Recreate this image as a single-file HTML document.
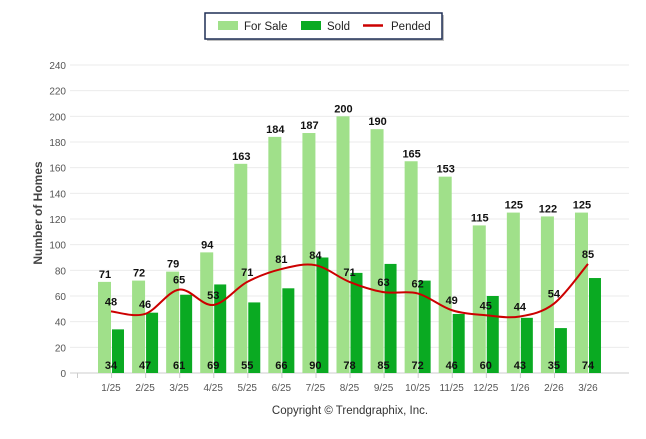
<!DOCTYPE html>
<html><head><meta charset="utf-8"><style>
body{margin:0;background:#fff;font-family:"Liberation Sans",sans-serif}
svg text{font-family:"Liberation Sans",sans-serif}
</style></head><body>
<svg width="646" height="434" viewBox="0 0 646 434" id="c">
<g>
<rect x="207" y="15" width="237" height="26" fill="#000" opacity="0.25"/>
<rect x="205" y="13" width="237" height="26" fill="#fff" stroke="#1f2f55" stroke-width="1.5"/>
<rect x="218" y="21" width="20" height="9" fill="#a0e08a"/>
<text x="244" y="30" font-size="11.5" fill="#222">For Sale</text>
<rect x="301" y="21" width="20" height="9" fill="#0aaa22"/>
<text x="327" y="30" font-size="11.5" fill="#222">Sold</text>
<line x1="363" y1="25.5" x2="383" y2="25.5" stroke="#cc0000" stroke-width="2.5"/>
<text x="391" y="30" font-size="11.5" fill="#222">Pended</text>
</g>
<text transform="translate(42,213) rotate(-90)" text-anchor="middle" font-size="12" font-weight="bold" fill="#444">Number of Homes</text>
<text x="350" y="414" text-anchor="middle" font-size="11.5" fill="#333">Copyright © Trendgraphix, Inc.</text>
<g id="g"></g>
</svg>
<script>
const categories=["1/25","2/25","3/25","4/25","5/25","6/25","7/25","8/25","9/25","10/25","11/25","12/25","1/26","2/26","3/26"];
const forSale=[71,72,79,94,163,184,187,200,190,165,153,115,125,122,125];
const sold=[34,47,61,69,55,66,90,78,85,72,46,60,43,35,74];
const pended=[48,46,65,53,71,81,84,71,63,62,49,45,44,54,85];
const yTicks=[0,20,40,60,80,100,120,140,160,180,200,220,240];
const NS="http://www.w3.org/2000/svg",g=document.getElementById('g');
const y=v=>373-v*(308/240);
const xc=i=>111+i*34.07;
function mk(t,a,txt){const e=document.createElementNS(NS,t);for(const k in a)e.setAttribute(k,a[k]);if(txt!==undefined)e.textContent=txt;g.appendChild(e);return e;}
yTicks.forEach(v=>{
 const l=mk('line',{x1:70,x2:629,y1:y(v),y2:y(v),stroke:v?'#ebebeb':'#ccc','stroke-width':1});
 
 
 const t=mk('text',{x:66,y:y(v)+4,'text-anchor':'end','font-size':10,fill:'#555'},v);
 
 
});
categories.forEach((c,i)=>{
 const tk=mk('line',{x1:xc(i)-33.5,x2:xc(i)-33.5,y1:373,y2:378,stroke:'#ccc'});
 
 
 const b1=mk('rect',{x:xc(i)-13,y:y(forSale[i]),width:13,height:373-y(forSale[i]),fill:'#a0e08a'});
 
 
 const b2=mk('rect',{x:xc(i)+1,y:y(sold[i]),width:12,height:373-y(sold[i]),fill:'#0aaa22'});
 
 
 const t=mk('text',{x:xc(i),y:391,'text-anchor':'middle','font-size':10,fill:'#555'},c);
 
 
 const l1=mk('text',{x:xc(i)-6,y:y(forSale[i])-4,'text-anchor':'middle','font-size':11,'font-weight':'bold',fill:'#111'},forSale[i]);
 
 
 const l2=mk('text',{x:xc(i),y:369,'text-anchor':'middle','font-size':11,'font-weight':'bold',fill:'#111'},sold[i]);
 
 
});
const P=pended.map((v,i)=>[xc(i),y(v)]);
let d='M'+P[0][0]+','+P[0][1];
for(let i=0;i<P.length-1;i++){
 const p0=P[i-1]||P[i],p1=P[i],p2=P[i+1],p3=P[i+2]||P[i+1];
 d+=` C${p1[0]+(p2[0]-p0[0])/6},${p1[1]+(p2[1]-p0[1])/6} ${p2[0]-(p3[0]-p1[0])/6},${p2[1]-(p3[1]-p1[1])/6} ${p2[0]},${p2[1]}`;
}
const ln=mk('path',{d:d,fill:'none',stroke:'#cc0000','stroke-width':2});


pended.forEach((v,i)=>{
 const t=mk('text',{x:xc(i),y:y(v)-6,'text-anchor':'middle','font-size':11,'font-weight':'bold',fill:'#111'},v);
 
 
});
</script>
</body></html>
